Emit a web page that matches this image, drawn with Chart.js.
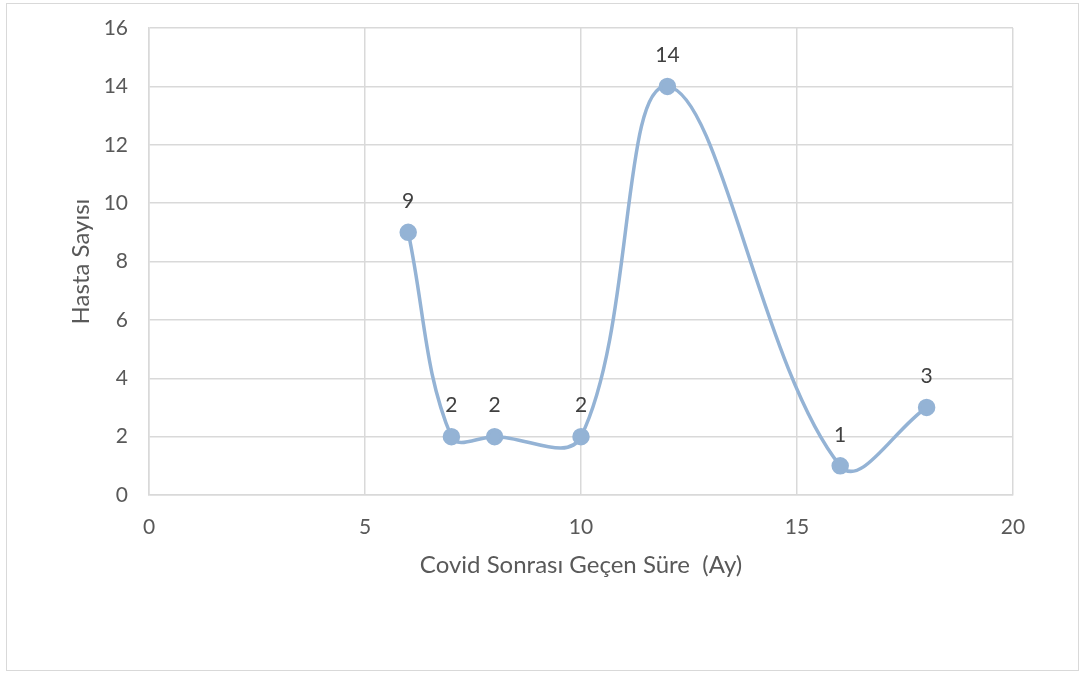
<!DOCTYPE html>
<html>
<head>
<meta charset="utf-8">
<script src="https://cdn.jsdelivr.net/npm/chart.js@4"></script>
<style>
  html, body { margin: 0; padding: 0; background: #fff; }
  #wrap { position: relative; width: 1088px; height: 675px; }
  #frame { position: absolute; left: 6px; top: 3px; width: 1073px; height: 668px; border: 1.5px solid #d9d9d9; box-sizing: border-box; }
  canvas { position: absolute; left: 0; top: 0; }
</style>
</head>
<body>
<div id="wrap">
  <div id="frame"></div>
  <canvas id="chart" width="1088" height="675"></canvas>
</div>
<script>
// Hasta sayısı vs. Covid sonrası geçen süre (ay)
const months = [6, 7, 8, 10, 12, 16, 18];
const patients = [9, 2, 2, 2, 14, 1, 3];
const xTicks = [0, 5, 10, 15, 20];
const yTicks = [0, 2, 4, 6, 8, 10, 12, 14, 16];

const lineColor = '#94B3D5';
const gridColor = '#d9d9d9';
const textColor = '#595959';
const fontFamily = 'Lato, "Open Sans", sans-serif';

// draws the value above each point
const valueLabels = {
  id: 'valueLabels',
  afterDatasetsDraw(chart) {
    const ctx = chart.ctx;
    const meta = chart.getDatasetMeta(0);
    ctx.save();
    ctx.font = '21px ' + fontFamily;
    ctx.fillStyle = '#404040';
    ctx.textAlign = 'center';
    ctx.textBaseline = 'middle';
    meta.data.forEach((pt, i) => {
      ctx.fillText(String(patients[i]), pt.x, pt.y - 31);
    });
    ctx.restore();
  }
};

new Chart(document.getElementById('chart'), {
  type: 'scatter',
  data: {
    datasets: [{
      label: 'Hasta Sayısı',
      data: months.map((m, i) => ({ x: m, y: patients[i] })),
      showLine: true,
      borderColor: lineColor,
      backgroundColor: lineColor,
      borderWidth: 3.5,
      pointRadius: 7,
      pointHoverRadius: 7,
      tension: 0.38
    }]
  },
  options: {
    responsive: false,
    animation: false,
    layout: { padding: { left: 62, top: 28, right: 75, bottom: 91 } },
    plugins: {
      legend: { display: false },
      tooltip: { enabled: false }
    },
    scales: {
      x: {
        type: 'linear',
        min: 0,
        max: 20,
        afterBuildTicks: axis => { axis.ticks = xTicks.map(v => ({ value: v })); },
        afterFit: axis => { axis.height = 89; axis.paddingLeft = 0; axis.paddingRight = 0; },
        grid: { color: gridColor, lineWidth: 1.5, drawTicks: false },
        border: { color: gridColor, width: 1.5 },
        ticks: { padding: 20, color: textColor, font: { family: fontFamily, size: 21 } },
        title: {
          display: true,
          text: 'Covid Sonrası Geçen Süre  (Ay)',
          color: textColor,
          font: { family: fontFamily, size: 24 },
          padding: { top: 0, bottom: 4 }
        }
      },
      y: {
        min: 0,
        max: 16,
        afterBuildTicks: axis => { axis.ticks = yTicks.map(v => ({ value: v })); },
        afterFit: axis => { axis.width = 87; axis.paddingTop = 0; axis.paddingBottom = 0; },
        grid: { color: gridColor, lineWidth: 1.5, drawTicks: false },
        border: { color: gridColor, width: 1.5 },
        ticks: { padding: 21, color: textColor, font: { family: fontFamily, size: 21 } },
        title: {
          display: true,
          text: 'Hasta Sayısı',
          color: textColor,
          font: { family: fontFamily, size: 24 },
          padding: { top: 5, bottom: 0 }
        }
      }
    }
  },
  plugins: [valueLabels]
});
</script>
</body>
</html>
